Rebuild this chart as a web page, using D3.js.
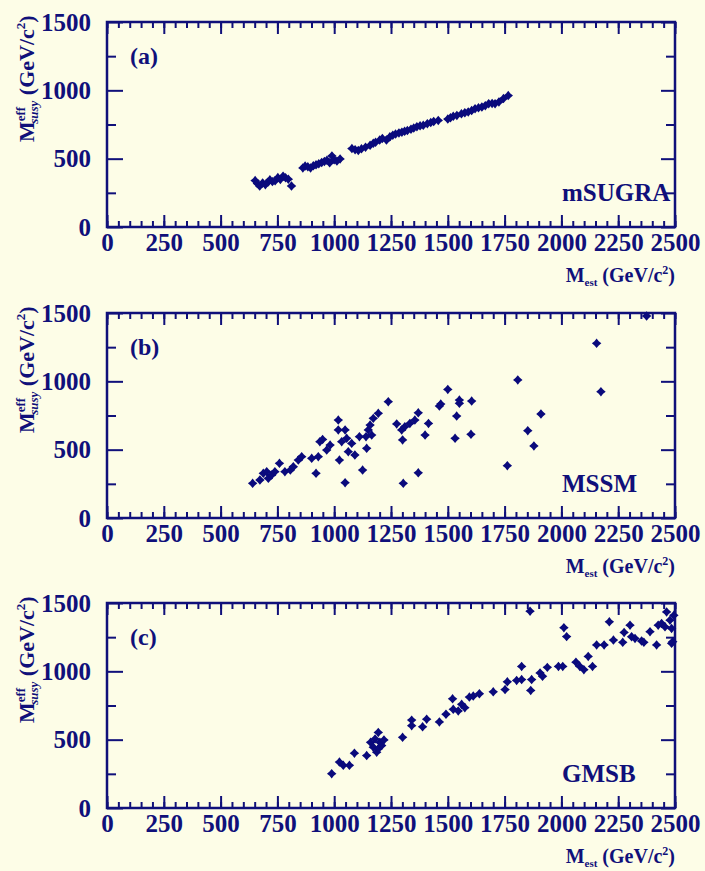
<!DOCTYPE html>
<html lang="en">
<head>
    <meta charset="UTF-8">
    <title>M_eff_susy vs M_est</title>
    <script src="https://d3js.org/d3.v7.min.js"></script>
    <style>
        body { margin: 0; background: #fdfde7; }
        svg { display: block; }
        .frame { fill: none; stroke: #10107a; stroke-width: 2.5; }
        .tick line { stroke: #10107a; stroke-width: 2; }
        .tick text, .lbl {
            font-family: "Liberation Serif", "Times New Roman", serif;
            font-weight: bold;
            fill: #10107a;
        }
        .tick text { font-size: 25px; }
        .point { fill: #0a0a7c; }
    </style>
</head>
<body>
<div id="chart-container"></div>
<script>
// tick values
const xMajorTicks = [0, 250, 500, 750, 1000, 1250, 1500, 1750, 2000, 2250, 2500];
const xMinorTicks = d3.range(0, 2501, 50);
const yMajorTicks = [0, 500, 1000, 1500];
const yMinorTicks = [250, 750, 1250];

// panel labels and model names
const panelLabels = ['(a)', '(b)', '(c)'];
const modelNames = ['mSUGRA', 'MSSM', 'GMSB'];

// (a) mSUGRA points [M_est, M_eff_susy]
const msugraPoints = [
    [652, 340], [662, 318], [672, 300], [685, 322], [697, 310], [708, 328], [717, 345], [728, 332],
    [740, 338], [752, 362], [763, 348], [775, 372], [786, 360], [798, 350], [812, 300],
    [862, 432], [872, 446], [884, 440], [896, 432], [908, 448], [920, 455], [932, 462], [945, 472],
    [957, 480], [968, 488], [980, 470], [990, 520], [1000, 492], [1012, 482], [1026, 498],
    [1078, 574], [1092, 566], [1106, 560], [1120, 572], [1138, 584], [1158, 598], [1172, 612],
    [1182, 620], [1200, 636], [1212, 648], [1230, 636], [1245, 660], [1258, 672], [1270, 680],
    [1285, 688], [1298, 694], [1310, 700], [1322, 706], [1338, 716], [1350, 724], [1364, 734],
    [1378, 740], [1392, 744], [1410, 756], [1425, 764], [1438, 772], [1458, 780], [1500, 790],
    [1512, 800], [1524, 810], [1540, 816], [1560, 828], [1575, 836], [1590, 842], [1605, 852],
    [1620, 866], [1635, 872], [1650, 878], [1665, 888], [1680, 902], [1695, 904], [1708, 902],
    [1725, 915], [1745, 940], [1766, 962]
];

// (b) MSSM points
const mssmPoints = [
    [641, 254], [673, 278], [688, 327], [703, 339], [710, 290], [725, 315], [739, 339], [759, 400],
    [783, 339], [807, 351], [820, 375], [842, 424], [857, 449], [901, 437], [920, 327], [930, 449],
    [937, 558], [949, 575], [967, 497], [982, 534], [1018, 717], [1018, 644], [1023, 424], [1033, 558],
    [1048, 644], [1048, 258], [1055, 583], [1062, 485], [1077, 546], [1091, 461], [1111, 595],
    [1125, 351], [1140, 595], [1143, 510], [1150, 644], [1158, 680], [1165, 607], [1172, 729],
    [1194, 766], [1238, 851], [1275, 688], [1297, 644], [1301, 571], [1304, 254], [1311, 668],
    [1333, 692], [1355, 717], [1370, 770], [1370, 331], [1400, 607], [1415, 692], [1463, 819],
    [1469, 834], [1500, 941], [1532, 583], [1539, 746], [1551, 863], [1551, 839], [1602, 612],
    [1605, 856], [1762, 383], [1808, 1010], [1852, 639], [1879, 527], [1910, 761], [2155, 1278],
    [2174, 924], [2375, 1478]
];

// (c) GMSB points
const gmsbPoints = [
    [989, 251], [1023, 336], [1040, 312], [1067, 312], [1089, 401], [1143, 384], [1160, 481],
    [1172, 445], [1180, 505], [1187, 408], [1194, 553], [1194, 433], [1201, 481], [1209, 457],
    [1219, 498], [1301, 517], [1341, 643], [1341, 602], [1389, 594], [1407, 650], [1463, 630],
    [1492, 686], [1521, 799], [1524, 722], [1546, 710], [1561, 759], [1575, 734], [1595, 812],
    [1612, 819], [1639, 836], [1700, 850], [1752, 867], [1762, 923], [1803, 933], [1825, 1036],
    [1825, 940], [1862, 1440], [1865, 860], [1869, 940], [1906, 988], [1917, 964], [1938, 1029],
    [1987, 1036], [2006, 1036], [2011, 1319], [2023, 1254], [2064, 1067], [2081, 1036], [2099, 1012],
    [2118, 1109], [2137, 1036], [2155, 1193], [2188, 1193], [2211, 1362], [2229, 1229], [2270, 1212],
    [2276, 1285], [2302, 1338], [2309, 1253], [2324, 1241], [2353, 1222], [2363, 1212], [2390, 1290],
    [2419, 1193], [2426, 1338], [2441, 1350], [2456, 1326], [2463, 1435], [2478, 1374], [2485, 1314],
    [2490, 1217], [2485, 1205], [2495, 1410]
];

const allPoints = [msugraPoints, mssmPoints, gmsbPoints];

// chart geometry
const width = 705, height = 871;
const plotLeft = 107, plotRight = 675;
const panelTops = [22, 313, 603];
const panelHeight = 205;

const svg = d3.select('#chart-container')
    .append('svg')
    .attr('width', width)
    .attr('height', height);

const xScale = d3.scaleLinear().domain([0, 2500]).range([plotLeft, plotRight]);

// four-pointed star marker
const starSymbol = {
    draw(context, size) {
        const r = Math.sqrt(size) * 0.75;
        const w = r * 0.45;
        context.moveTo(0, -r);
        context.lineTo(w, -w);
        context.lineTo(r, 0);
        context.lineTo(w, w);
        context.lineTo(0, r);
        context.lineTo(-w, w);
        context.lineTo(-r, 0);
        context.lineTo(-w, -w);
        context.closePath();
    }
};

function drawPanel(i) {
    const top = panelTops[i];
    const bottom = top + panelHeight;
    const yScale = d3.scaleLinear().domain([0, 1500]).range([bottom, top]);
    const g = svg.append('g');

    // bottom axis with labels
    g.append('g')
        .attr('transform', `translate(0,${bottom})`)
        .call(d3.axisBottom(xScale).tickValues(xMajorTicks).tickSize(-12).tickPadding(6).tickFormat(d3.format('d')));
    g.append('g')
        .attr('transform', `translate(0,${bottom})`)
        .call(d3.axisBottom(xScale).tickValues(xMinorTicks).tickSize(-6).tickFormat(''));
    // top axis ticks
    g.append('g')
        .attr('transform', `translate(0,${top})`)
        .call(d3.axisTop(xScale).tickValues(xMajorTicks).tickSize(-12).tickFormat(''));
    g.append('g')
        .attr('transform', `translate(0,${top})`)
        .call(d3.axisTop(xScale).tickValues(xMinorTicks).tickSize(-6).tickFormat(''));

    // left axis with labels
    g.append('g')
        .attr('transform', `translate(${plotLeft},0)`)
        .call(d3.axisLeft(yScale).tickValues(yMajorTicks).tickSize(-16).tickPadding(16).tickFormat(d3.format('d')));
    g.append('g')
        .attr('transform', `translate(${plotLeft},0)`)
        .call(d3.axisLeft(yScale).tickValues(yMinorTicks).tickSize(-9).tickFormat(''));
    // right axis ticks
    g.append('g')
        .attr('transform', `translate(${plotRight},0)`)
        .call(d3.axisRight(yScale).tickValues(yMajorTicks).tickSize(-14).tickFormat(''));
    g.append('g')
        .attr('transform', `translate(${plotRight},0)`)
        .call(d3.axisRight(yScale).tickValues(yMinorTicks).tickSize(-9).tickFormat(''));

    g.selectAll('.domain').remove();

    // frame
    g.append('rect')
        .attr('class', 'frame')
        .attr('x', plotLeft)
        .attr('y', top)
        .attr('width', plotRight - plotLeft)
        .attr('height', panelHeight);

    // points
    g.selectAll('.point')
        .data(allPoints[i])
        .enter()
        .append('path')
        .attr('class', 'point')
        .attr('transform', d => `translate(${xScale(d[0])},${yScale(d[1])})`)
        .attr('d', d3.symbol().type(starSymbol).size(40));

    // panel label and model name
    g.append('text')
        .attr('class', 'lbl')
        .attr('x', 130)
        .attr('y', top + 42)
        .style('font-size', '24px')
        .text(panelLabels[i]);
    g.append('text')
        .attr('class', 'lbl')
        .attr('x', 562)
        .attr('y', top + 179)
        .style('font-size', '25px')
        .text(modelNames[i]);

    // x axis title
    const xt = g.append('text')
        .attr('class', 'lbl')
        .attr('x', plotRight)
        .attr('y', top + 260)
        .attr('text-anchor', 'end')
        .style('font-size', '20px');
    xt.append('tspan').text('M');
    xt.append('tspan').attr('dy', 4).style('font-size', '11px').text('est');
    xt.append('tspan').attr('dy', -4).text(' (GeV/c');
    xt.append('tspan').attr('dy', -8).style('font-size', '12px').text('2');
    xt.append('tspan').attr('dy', 8).text(')');

    // y axis title
    const yt = g.append('text')
        .attr('class', 'lbl')
        .attr('transform', `translate(34,${top + 120}) rotate(-90)`)
        .style('font-size', '22px');
    yt.append('tspan').text('M');
    yt.append('tspan').attr('dy', -9).style('font-size', '13px').text('eff');
    yt.append('tspan').attr('dx', -17).attr('dy', 13).style('font-size', '13px').style('font-style', 'italic').text('susy');
    yt.append('tspan').attr('dy', -4).text(' (GeV/c');
    yt.append('tspan').attr('dy', -9).style('font-size', '13px').text('2');
    yt.append('tspan').attr('dy', 9).text(')');
}

panelTops.forEach((t, i) => drawPanel(i));
</script>
</body>
</html>
